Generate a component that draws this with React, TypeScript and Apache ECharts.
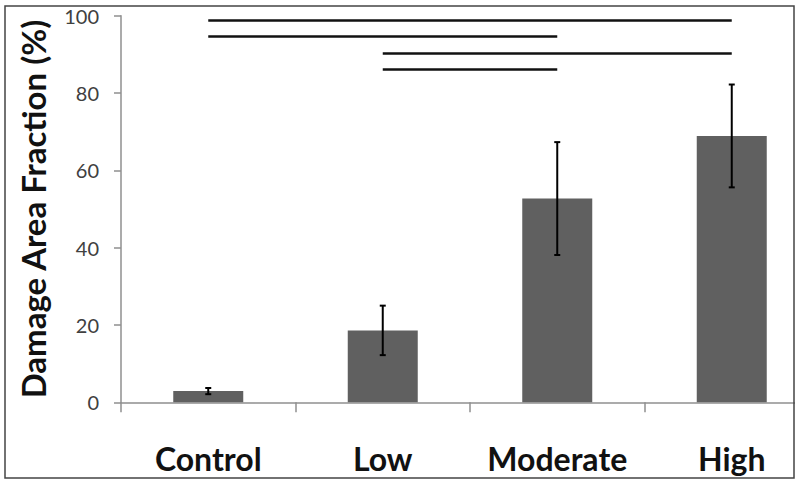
import React, { useEffect, useRef } from "react";
import * as echarts from "echarts";

const categories = ["Control", "Low", "Moderate", "High"];
const means = [2.9, 18.6, 52.7, 68.9];
const errors = [0.8, 6.4, 14.6, 13.3];
const yTicks = [0, 20, 40, 60, 80, 100];
// significance bars: [from category, to category, height (%)]
const sigFrom = ["Control", "Control", "Low", "Low"];
const sigTo = ["High", "Moderate", "High", "Moderate"];
const sigY = [98.8, 94.7, 90.4, 86.1];

export default function App() {
  const ref = useRef<HTMLDivElement>(null);
  useEffect(() => {
    if (!ref.current) return;
    const chart = echarts.init(ref.current, undefined, { renderer: "svg" });
    const errData = categories.map((c, i) => [i, means[i] - errors[i], means[i] + errors[i]]);
    const markData = sigFrom.map((f, i) => [
      { coord: [f, sigY[i]] },
      { coord: [sigTo[i], sigY[i]] },
    ]);
    chart.setOption({
      animation: false,
      backgroundColor: "#ffffff",
      grid: { left: 121, top: 15.7, width: 698, height: 386.6, containLabel: false },
      xAxis: {
        type: "category",
        data: categories,
        axisLine: { show: true, lineStyle: { color: "#8f8f8f", width: 1.5 } },
        axisTick: { show: true, interval: 0, length: 10, lineStyle: { color: "#8f8f8f", width: 1.5 } },
        axisLabel: {
          interval: 0,
          color: "#111111",
          fontFamily: "Lato",
          fontWeight: "bold",
          fontSize: 32,
          margin: 40,
        },
        splitLine: { show: false },
      },
      yAxis: {
        type: "value",
        min: 0,
        max: yTicks[yTicks.length - 1],
        interval: 20,
        name: "Damage Area Fraction (%)",
        nameLocation: "middle",
        nameGap: 72,
        nameRotate: 90,
        nameTextStyle: {
          color: "#111111",
          fontFamily: "Lato",
          fontWeight: "bold",
          fontSize: 33,
        },
        axisLine: { show: true, lineStyle: { color: "#8f8f8f", width: 1.5 } },
        axisTick: { show: true, length: 7, lineStyle: { color: "#8f8f8f", width: 1.5 } },
        axisLabel: { color: "#404040", fontFamily: "Lato", fontSize: 20, margin: 22 },
        splitLine: { show: false },
      },
      series: [
        {
          type: "bar",
          data: means,
          barWidth: 70,
          itemStyle: { color: "#606060" },
          markLine: {
            silent: true,
            symbol: ["none", "none"],
            label: { show: false },
            lineStyle: { color: "#111111", width: 2.5, type: "solid" },
            data: markData,
          },
          z: 2,
        },
        {
          type: "custom",
          data: errData,
          z: 3,
          renderItem: (params: any, api: any) => {
            const idx = api.value(0);
            const lo = api.coord([idx, api.value(1)]);
            const hi = api.coord([idx, api.value(2)]);
            const cap = 3;
            const style = { stroke: "#000000", lineWidth: 2 };
            return {
              type: "group",
              children: [
                { type: "line", shape: { x1: hi[0], y1: hi[1], x2: lo[0], y2: lo[1] }, style },
                { type: "line", shape: { x1: hi[0] - cap, y1: hi[1], x2: hi[0] + cap, y2: hi[1] }, style },
                { type: "line", shape: { x1: lo[0] - cap, y1: lo[1], x2: lo[0] + cap, y2: lo[1] }, style },
              ],
            };
          },
        },
      ],
      graphic: [
        {
          type: "rect",
          z: 100,
          shape: { x: 795, y: 0, width: 60, height: 483 },
          style: { fill: "#ffffff" },
        },
        {
          type: "rect",
          z: 101,
          shape: { x: 5, y: 6, width: 789, height: 472 },
          style: { fill: "none", stroke: "#444444", lineWidth: 1.5 },
        },
      ],
    });
    return () => chart.dispose();
  }, []);
  return (
    <div
      style={{
        position: "absolute",
        left: 0,
        top: 0,
        width: 800,
        height: 483,
        overflow: "hidden",
      }}
    >
      <div ref={ref} style={{ width: 850, height: 483 }} />
    </div>
  );
}
